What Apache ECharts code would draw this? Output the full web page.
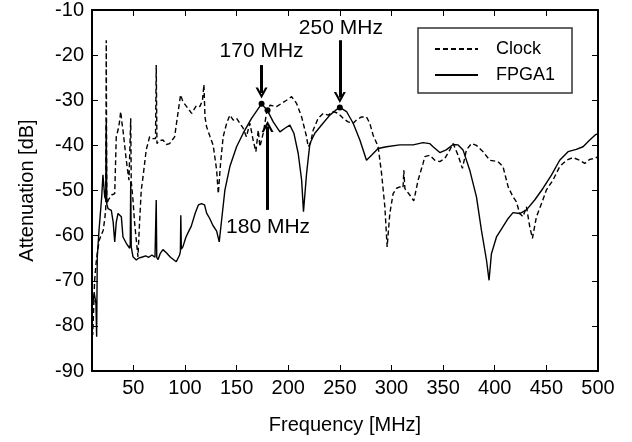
<!DOCTYPE html>
<html>
<head>
<meta charset="utf-8">
<script src="https://cdn.jsdelivr.net/npm/echarts@6/dist/echarts.min.js"></script>
<style>
html,body{margin:0;padding:0;background:#fff;}
#chart{width:632px;height:442px;}
</style>
</head>
<body>
<div id="chart"></div>
<script>
// ---- data ----
const clockFreq = [10,10.7,11.5,12.5,14,15.1,17,20.9,22.5,23.3,23.8,24.3,26,29,32,33.5,35.2,36.5,37.8,39,40,43.2,45.8,47,47.5,48,49.7,51.3,54.5,56,57.7,59.4,62.5,65.8,69,71.5,72.2,72.9,75,78.7,82,85.2,90,93.2,95.8,98,102.9,106.5,107.7,111,114.5,117,118.4,119.4,121,124.2,127.4,130.7,132.3,134.5,137,140.4,143.5,146.8,150,153.2,156.4,159.5,162.9,166,168.7,171,172.6,175.8,179,182.3,188.7,193.6,198.4,203.3,208.1,213,217.8,219.3,221.5,224.2,229,233.9,238.8,243.5,248.4,253.2,258,262.9,266.1,271,275.8,279,282.2,287.1,290.4,293.6,295.8,298.4,301.6,304.9,308.1,311.2,312,313,317.7,321.6,325.8,330.6,332.3,337.1,342,346.8,351.6,356.5,359.7,364.5,368.7,372.6,377.4,382.3,388.7,395.2,403.2,408,413,417.7,421,424.2,427.4,430.7,433.9,436.5,440.4,445.3,450,456.4,462.9,469.4,475.8,482.3,487.1,492,496.9,500];
const clockAtt = [-78,-82,-77,-70,-66,-64,-61,-58.8,-56,-54,-16.7,-53,-52,-51,-50.7,-38.1,-36.6,-35,-32.5,-35,-36.6,-43.3,-47.7,-48,-34,-48,-52.1,-57.3,-64.7,-57.3,-49.9,-47,-41,-38.1,-38.5,-38.5,-22.2,-39.6,-39,-38.8,-39.8,-39.6,-38.1,-32.9,-28.8,-30.3,-31.8,-32.9,-33.3,-31.2,-31.4,-30,-26.5,-33.7,-35.9,-38,-40,-45.5,-50.7,-44,-38.1,-35.1,-33.3,-34.4,-34,-35.1,-36.2,-38.1,-35.1,-38.8,-41.4,-36.6,-40.3,-37.3,-32.9,-31.1,-31.4,-30.7,-30,-29.2,-30.7,-33.7,-38.1,-40.3,-39.6,-36.6,-34,-32.9,-33.3,-32.5,-32.9,-34,-34.8,-35.1,-34.4,-33.7,-33.7,-35.1,-37.7,-40.3,-46.2,-53.6,-62.5,-55.1,-50.7,-49.5,-49.2,-49.4,-45.5,-49.6,-51,-52.3,-47.7,-44,-42.5,-42.2,-43.3,-43.6,-42.9,-41,-39.6,-42.2,-45.1,-41,-39.6,-40,-41.4,-43.3,-43.6,-44.7,-49.2,-51.4,-52.5,-55.1,-55.8,-53.6,-58,-60.6,-55.8,-52.9,-49.9,-47.7,-44.7,-43.3,-42.7,-43.3,-44,-43.1,-42.9,-42.5];

const fpgaFreq = [10,10.7,12.2,13.8,14.5,15.1,16.8,19.4,20.6,22.3,23.3,23.8,24.3,25.5,28.7,30.5,32,33.5,35.2,36.5,38.4,40,43.2,46.5,47,47.5,48,49.7,52.9,55,58,62,65,68,71,71.7,72.2,72.7,74,76,78.7,82,86,91.6,94.8,95.6,96,96.5,98,101,104.8,106,110,113,116,119,121,124,127,130.7,133.2,135.5,138.7,143.5,150,156.4,164.5,170,174.2,179.7,185.5,192,196.8,201.6,205.5,209.7,213,214.8,217.8,221,225.8,232.3,240.3,246,250,256.5,262.9,269.4,275.8,280.7,287,295.2,308,321,330.6,337,340.3,346.8,353,359.7,364.5,369.3,375.8,382.3,387.1,392,394.5,396.8,401.7,408,413,417.7,424.2,430.7,438.7,446.8,454.9,462.9,471,479,485.5,492,497.8,500];
const fpgaAtt = [-76,-75,-72.8,-75,-82.4,-64.7,-58.8,-51.4,-46.5,-51.4,-52,-35,-53,-54,-54.4,-57,-61.4,-57,-55.1,-55.3,-55.8,-60.3,-61.7,-62.8,-62,-48,-62.5,-64.7,-65.4,-65,-64.8,-64.5,-64.8,-64.3,-64.8,-64.5,-52.1,-64.8,-65.3,-64,-63.1,-63.8,-64.8,-65.8,-64.3,-63.5,-55.5,-63,-62.5,-60.3,-58.5,-58,-55,-53.2,-52.9,-53.2,-55,-56.2,-57.7,-59,-61.4,-56.6,-49.9,-44.7,-40.3,-37.3,-34,-32.2,-30.8,-32.2,-34.8,-37,-36.2,-35.5,-37.3,-41.8,-47.7,-54.7,-46.2,-39.6,-37.3,-35.5,-33.3,-32.2,-31.6,-32.5,-35.1,-38.8,-43.3,-42.2,-40.7,-40.3,-39.9,-39.9,-39.4,-39.6,-40.3,-41.6,-41,-39.8,-39.9,-41,-45.5,-51.4,-58.8,-65.4,-69.9,-64,-60.3,-58,-56.2,-54.9,-55.1,-54.3,-52.1,-49.5,-46.6,-43.3,-41.4,-40.9,-40.3,-38.8,-37.6,-37.4];

const xTickValues = [50,100,150,200,250,300,350,400,450,500];
const annotLabels = ['170 MHz','180 MHz','250 MHz'];
const annotFreq = [174.2,180,250];
const annotAtt = [-30.8,-32.2,-31.6];

// ---- chart ----
const FONT = '"Liberation Sans", Arial, Helvetica, sans-serif';
const chart = echarts.init(document.getElementById('chart'), null, {renderer:'canvas'});

const zip = (a,b) => a.map((v,i)=>[v,b[i]]);
const chevron = 'path://M0,12 L6,0 L12,12 L9.6,12 L6,4.8 L2.4,12 Z';

// arrows: [x, fromY, toY] in data units
const arrows = [
  [annotFreq[0], -22.2, -28.4],
  [annotFreq[1], -54.3, -35.8],
  [annotFreq[2], -16.7, -29.4]
];
const textPos = [
  [annotFreq[0], -19.2],
  [annotFreq[1] + 0.5, -58.2],
  [annotFreq[2] + 1, -14.0]
];

const xCommon = {
  type:'value', min:10, max:500,
  axisLine:{show:true, onZero:false, lineStyle:{color:'#000', width:2}},
  splitLine:{show:false},
  axisTick:{show:true, inside:true, length:6, customValues:xTickValues, lineStyle:{color:'#000', width:1}}
};
const yCommon = {
  type:'value', min:-90, max:-10, interval:10,
  axisLine:{show:true, onZero:false, lineStyle:{color:'#000', width:2}},
  splitLine:{show:false},
  axisTick:{show:true, inside:true, length:6, lineStyle:{color:'#000', width:1}}
};

const option = {
  animation:false,
  backgroundColor:'#fff',
  textStyle:{fontFamily:FONT},
  grid:{left:92, right:34, top:10, bottom:71, containLabel:false},
  legend:{
    data:['Clock','FPGA1'],
    orient:'vertical', left:418, top:28,
    padding:[12,17,9,16],
    itemWidth:43, itemHeight:14, itemGap:8,
    borderColor:'#333', borderWidth:1.5,
    itemStyle:{opacity:0},
    textStyle:{fontSize:18, color:'#000', fontFamily:FONT, padding:[0,0,0,13]},
    selectedMode:false
  },
  xAxis:[
    Object.assign({}, xCommon, {
      position:'bottom',
      name:'Frequency [MHz]', nameLocation:'middle', nameGap:44,
      nameTextStyle:{fontSize:20, color:'#000', fontFamily:FONT},
      axisLabel:{show:true, customValues:xTickValues, fontSize:20, color:'#000', margin:7, fontFamily:FONT}
    }),
    Object.assign({}, xCommon, {position:'top', axisLabel:{show:false}})
  ],
  yAxis:[
    Object.assign({}, yCommon, {
      position:'left',
      name:'Attenuation [dB]', nameLocation:'middle', nameGap:55,
      nameTextStyle:{fontSize:20, color:'#000', fontFamily:FONT},
      axisLabel:{show:true, fontSize:20, color:'#000', margin:8, fontFamily:FONT}
    }),
    Object.assign({}, yCommon, {position:'right', axisLabel:{show:false}})
  ],
  series:[
    {
      name:'Clock', type:'line', xAxisIndex:0, yAxisIndex:0,
      data:zip(clockFreq, clockAtt),
      showSymbol:false, symbol:'none',
      lineStyle:{color:'#000', width:1.4, type:[5,3]},
      itemStyle:{color:'#000'}
    },
    {
      name:'FPGA1', type:'line', xAxisIndex:0, yAxisIndex:0,
      data:zip(fpgaFreq, fpgaAtt),
      showSymbol:false, symbol:'none',
      lineStyle:{color:'#000', width:1.4},
      itemStyle:{color:'#000'},
      markLine:{
        silent:true, animation:false,
        symbol:['none', chevron], symbolSize:[12,11],
        label:{show:false},
        lineStyle:{color:'#000', width:3, type:'solid'},
        data: arrows.map(a => [{coord:[a[0], a[1]]}, {coord:[a[0], a[2]]}])
      },
      markPoint:{
        silent:true, animation:false,
        data: annotFreq.map((f,i)=>({coord:[f, annotAtt[i]], symbol:'circle', symbolSize:6, itemStyle:{color:'#000'}, label:{show:false}}))
          .concat(textPos.map((p,i)=>({coord:p, symbol:'circle', symbolSize:0,
            label:{show:true, position:'inside', formatter:annotLabels[i], fontSize:21, color:'#000', fontFamily:FONT}})))
      }
    }
  ]
};
chart.setOption(option);
</script>
</body>
</html>
